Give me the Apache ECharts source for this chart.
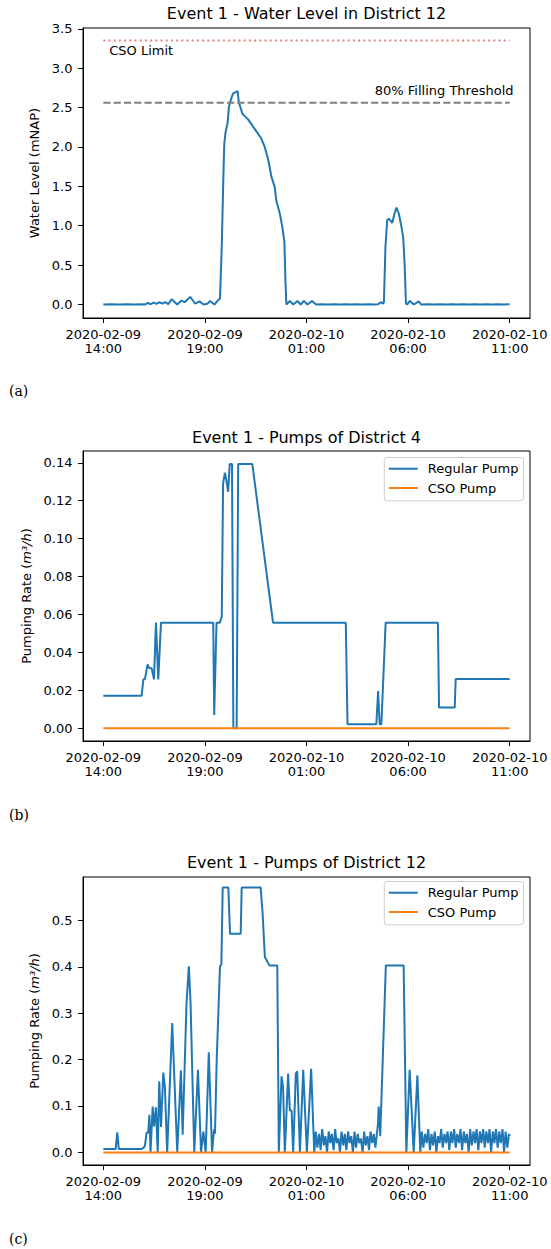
<!DOCTYPE html>
<html>
<head>
<meta charset="utf-8">
<script src="https://cdn.jsdelivr.net/npm/echarts@6/dist/echarts.min.js"></script>
<style>
html,body{margin:0;padding:0;background:#fff;}
#c{width:551px;height:1249px;}
</style>
</head>
<body>
<div id="c"></div>
<script>
// ---------- DATA (hours after 2020-02-09 14:00) ----------
const xTickValues = [0, 5.25, 10.5, 15.75, 21];
const xTickLabels = ['2020-02-09\n14:00', '2020-02-09\n19:00', '2020-02-10\n01:00', '2020-02-10\n06:00', '2020-02-10\n11:00'];

const yTicksLevel = [0, 0.5, 1.0, 1.5, 2.0, 2.5, 3.0, 3.5];
const yTicksD4 = [0, 0.02, 0.04, 0.06, 0.08, 0.10, 0.12, 0.14];
const yTicksD12 = [0, 0.1, 0.2, 0.3, 0.4, 0.5];

const csoLimit = 3.35;
const fillingThreshold = 2.56;
const lineSpan = [0, 21];

const waterLevel = [
  [0,0],[0.4,0.003],[0.8,0],[1.2,0.003],[1.6,0],[2.0,0.002],[2.15,0],
  [2.3,0.02],[2.45,0.005],[2.6,0.025],[2.75,0.008],[2.9,0.03],[3.05,0.01],[3.2,0.03],[3.36,0.005],
  [3.53,0.067],[3.82,0.0],[4.04,0.05],[4.2,0.03],[4.49,0.097],[4.75,0.01],[4.97,0.04],[5.18,0],
  [5.38,0.01],[5.52,0.045],[5.74,0],[5.91,0.05],[6.03,0.076],
  [6.12,0.73],[6.2,1.58],[6.25,2.04],[6.32,2.19],[6.42,2.30],[6.49,2.51],[6.63,2.63],[6.71,2.68],
  [6.94,2.71],[7.0,2.57],[7.19,2.42],[7.48,2.35],[7.82,2.23],[8.16,2.11],[8.34,2.0],[8.51,1.85],
  [8.69,1.62],[8.86,1.49],[8.94,1.32],[9.12,1.155],[9.25,0.985],[9.36,0.79],[9.41,0.31],[9.46,0],
  [9.64,0.045],[9.82,0],[10.03,0.045],[10.2,0],[10.36,0.046],[10.55,0],[10.78,0.046],[11.0,0],
  [11.3,0.004],[11.6,0],[11.9,0.004],[12.2,0],[12.5,0.004],[12.8,0],[13.1,0.004],[13.4,0],[13.7,0.004],
  [14.0,0],[14.2,0.005],[14.37,0.03],[14.45,0.01],[14.5,0.03],
  [14.58,0.73],[14.67,1.07],[14.75,1.09],[14.93,1.035],[15.05,1.155],[15.15,1.23],[15.27,1.155],
  [15.41,0.985],[15.5,0.84],[15.57,0.52],[15.64,0.01],[15.7,0],
  [15.84,0.046],[16.05,0],[16.3,0.04],[16.42,0],
  [16.8,0.004],[17.1,0],[17.4,0.004],[17.7,0],[18.0,0.004],[18.3,0],[18.6,0.004],[18.9,0],
  [19.2,0.004],[19.5,0],[19.8,0.004],[20.1,0],[20.4,0.004],[20.7,0],[21,0.002]
];

const regularPumpD4 = [
  [0,0.0172],[1.98,0.0172],[2.07,0.0258],[2.15,0.026],[2.29,0.0337],[2.38,0.0316],[2.5,0.0316],
  [2.62,0.0258],[2.72,0.0557],[2.84,0.0258],[2.98,0.0557],[5.68,0.0557],[5.73,0.007],[5.85,0.0556],
  [6.02,0.0557],[6.12,0.0588],[6.19,0.129],[6.28,0.1347],[6.36,0.1308],[6.45,0.1247],[6.53,0.1393],
  [6.65,0.1393],[6.72,0],[6.89,0],[6.97,0.1393],[7.70,0.1393],[8.77,0.0557],[12.53,0.0557],
  [12.62,0.0021],[14.11,0.0021],[14.2,0.0197],[14.28,0.0021],[14.37,0.0021],[14.59,0.0557],
  [17.29,0.0557],[17.35,0.0109],[18.16,0.0109],[18.21,0.026],[21,0.026]
];
const csoPumpD4 = [[0,0],[21,0]];

const regularPumpD12 = [
  [0,0.0073],[0.64,0.0073],[0.72,0.043],[0.8,0.0073],[1.98,0.0073],[2.08,0.01],[2.15,0.0144],
  [2.24,0.043],[2.32,0.042],[2.38,0.081],[2.44,0],[2.55,0.099],[2.62,0.056],[2.72,0.097],[2.81,0],
  [2.89,0.153],[2.98,0.055],[3.1,0.172],[3.18,0.142],[3.3,0],[3.56,0.279],[3.82,0],[4.01,0.177],
  [4.1,0.038],[4.3,0.322],[4.42,0.401],[4.51,0.32],[4.7,0],[4.89,0.178],[5.05,0],[5.17,0.045],
  [5.29,0],[5.45,0.2155],[5.62,0],[5.72,0.049],[5.77,0.04],[5.86,0.2],[6.03,0.401],[6.1,0.405],
  [6.17,0.571],[6.46,0.571],[6.55,0.471],[7.1,0.471],[7.15,0.571],[8.13,0.571],[8.23,0.516],
  [8.35,0.421],[8.58,0.403],[8.99,0.403],[9.07,0],[9.21,0.164],[9.29,0.14],[9.38,0],[9.55,0.17],
  [9.64,0.09],[9.73,0.09],[9.81,0],[9.95,0.17],[10.02,0.175],[10.16,0],[10.33,0.178],[10.52,0],
  [10.74,0.18],[10.9,0],
  [10.98,0.045],[11.06,0.01],[11.15,0.04],[11.23,0.005],[11.31,0.05],[11.4,0.015],[11.48,0.035],
  [11.56,0.0],[11.65,0.045],[11.73,0.02],[11.81,0.04],[11.9,0.005],[11.98,0.05],[12.06,0.02],
  [12.15,0.03],[12.23,0.0],[12.31,0.045],[12.4,0.015],[12.48,0.04],[12.56,0.005],[12.65,0.045],
  [12.73,0.02],[12.81,0.035],[12.9,0.0],[12.98,0.045],[13.06,0.01],[13.15,0.04],[13.23,0.02],
  [13.31,0.03],[13.4,0.0],[13.48,0.045],[13.56,0.015],[13.65,0.035],[13.73,0.005],[13.81,0.045],
  [13.9,0.02],[13.98,0.04],[14.06,0.01],[14.15,0.045],
  [14.19,0.06],[14.23,0.099],[14.31,0.035],[14.6,0.403],[15.52,0.403],[15.66,0],[15.83,0.178],
  [16.04,0],[16.23,0.166],[16.38,0],
  [16.46,0.045],[16.54,0.01],[16.63,0.04],[16.71,0.02],[16.79,0.05],[16.88,0.005],[16.96,0.04],
  [17.04,0.015],[17.13,0.045],[17.21,0.0],[17.29,0.035],[17.38,0.02],[17.46,0.05],[17.54,0.01],
  [17.63,0.04],[17.71,0.02],[17.79,0.045],[17.88,0.005],[17.96,0.045],[18.04,0.02],[18.13,0.05],
  [18.21,0.01],[18.29,0.04],[18.38,0.02],[18.46,0.05],[18.54,0.005],[18.63,0.045],[18.71,0.02],
  [18.79,0.04],[18.88,0.0],[18.96,0.05],[19.04,0.015],[19.13,0.045],[19.21,0.02],[19.29,0.05],
  [19.38,0.005],[19.46,0.045],[19.54,0.02],[19.63,0.05],[19.71,0.01],[19.79,0.045],[19.88,0.02],
  [19.96,0.05],[20.04,0.0],[20.13,0.045],[20.21,0.02],[20.29,0.05],[20.38,0.01],[20.46,0.045],
  [20.54,0.02],[20.63,0.05],[20.71,0.0],[20.79,0.045],[20.88,0.01],[20.96,0.04],[21,0.035]
];
const csoPumpD12 = [[0,0],[21,0]];

// ---------- STYLE ----------
const FONT = 'DejaVu Sans';
const BLUE = '#1f77b4', ORANGE = '#ff7f0e';

function near(arr, v){ return arr.findIndex(a => Math.abs(a - v) < 1e-6); }

function xAxisFor(gi){
  return {
    type:'value', gridIndex:gi, min:-1.05, max:22.05,
    splitLine:{show:false},
    axisLine:{show:true, onZero:false, lineStyle:{color:'#000', width:1}},
    axisTick:{show:true, length:5, customValues:xTickValues, lineStyle:{color:'#000', width:1}},
    axisLabel:{show:true, customValues:xTickValues, margin:9.5, color:'#000', fontFamily:FONT, fontSize:13, lineHeight:13.8,
      formatter:(v)=>{ const i = near(xTickValues, v); return i >= 0 ? xTickLabels[i] : ''; }}
  };
}
function yAxisFor(gi, min, max, ticks, dec, name, gap){
  return {
    type:'value', gridIndex:gi, min:min, max:max,
    splitLine:{show:false},
    axisLine:{show:true, onZero:false, lineStyle:{color:'#000', width:1}},
    axisTick:{show:true, length:5, customValues:ticks, lineStyle:{color:'#000', width:1}},
    axisLabel:{show:true, customValues:ticks, margin:10.5, color:'#000', fontFamily:FONT, fontSize:13,
      formatter:(v)=>v.toFixed(dec)},
    name:name, nameLocation:'middle', nameGap:gap,
    nameTextStyle:{color:'#000', fontFamily:FONT, fontSize:13,
      rich:{n:{fontFamily:FONT, fontSize:13, color:'#000'}, i:{fontFamily:FONT, fontSize:13, fontStyle:'italic', color:'#000'}}}
  };
}
function lineSeries(name, data, xi, color, extra){
  return Object.assign({
    name:name, type:'line', xAxisIndex:xi, yAxisIndex:xi, data:data,
    showSymbol:false, symbol:'none', animation:false,
    lineStyle:{color:color, width:2}, itemStyle:{color:color},
    emphasis:{disabled:true}
  }, extra || {});
}
function legendFor(top){
  return {
    top:top, right:27.5, orient:'vertical', icon:'rect', itemWidth:29, itemHeight:2, itemGap:4.3,
    padding:[3.7,5,5.3,4.5], backgroundColor:'#fff', borderColor:'#cccccc', borderWidth:1, borderRadius:3,
    textStyle:{fontFamily:FONT, fontSize:13, color:'#000', lineHeight:15, padding:[0,0,0,5]},
    data:['Regular Pump','CSO Pump'], selectedMode:false
  };
}
function txt(x, y, s, font, align){
  return {type:'text', x:x, y:y, silent:true,
    style:{text:s, font:font, fill:'#000', textAlign:align||'center', textVerticalAlign:'middle', align:align||'center', verticalAlign:'middle'}};
}

const chart = echarts.init(document.getElementById('c'), null, {renderer:'svg'});
const lvlSpan = lineSpan.map(h => [h, csoLimit]);
const thrSpan = lineSpan.map(h => [h, fillingThreshold]);

chart.setOption({
  animation:false,
  backgroundColor:'#fff',
  grid:[
    {left:83, top:28, width:447, height:290, show:true, borderColor:'#000', borderWidth:1, backgroundColor:'transparent'},
    {left:83, top:451, width:447, height:290, show:true, borderColor:'#000', borderWidth:1, backgroundColor:'transparent'},
    {left:83, top:877, width:447, height:288, show:true, borderColor:'#000', borderWidth:1, backgroundColor:'transparent'}
  ],
  xAxis:[xAxisFor(0), xAxisFor(1), xAxisFor(2)],
  yAxis:[
    yAxisFor(0, -0.171, 3.51, yTicksLevel, 1, 'Water Level (mNAP)', 36),
    yAxisFor(1, -0.0067, 0.1462, yTicksD4, 2, '{n|Pumping Rate (}{i|m³/h}{n|)}', 46),
    yAxisFor(2, -0.0272, 0.5935, yTicksD12, 1, '{n|Pumping Rate (}{i|m³/h}{n|)}', 35.5)
  ],
  legend:[legendFor(457.5), legendFor(881.5)],
  series:[
    lineSeries('Water Level', waterLevel, 0, BLUE),
    lineSeries('CSO Limit', lvlSpan, 0, '#e58080', {lineStyle:{color:'#e58080', width:2, type:[2,3.2]}}),
    lineSeries('80% Filling Threshold', thrSpan, 0, '#808080', {lineStyle:{color:'#808080', width:2, type:[7.2,3.1]}}),
    lineSeries('Regular Pump', regularPumpD4, 1, BLUE),
    lineSeries('CSO Pump', csoPumpD4, 1, ORANGE),
    lineSeries('Regular Pump', regularPumpD12, 2, BLUE),
    lineSeries('CSO Pump', csoPumpD12, 2, ORANGE)
  ],
  graphic:[
    txt(306.5, 13.5, 'Event 1 - Water Level in District 12', '16px "DejaVu Sans"'),
    txt(306.5, 437.5, 'Event 1 - Pumps of District 4', '16px "DejaVu Sans"'),
    txt(306.5, 862, 'Event 1 - Pumps of District 12', '16px "DejaVu Sans"'),
    txt(109.2, 50.7, 'CSO Limit', '13px "DejaVu Sans"', 'left'),
    txt(513.5, 90.7, '80% Filling Threshold', '13px "DejaVu Sans"', 'right'),
    txt(9, 391, '(a)', '14px "DejaVu Serif"', 'left'),
    txt(9, 815, '(b)', '14px "DejaVu Serif"', 'left'),
    txt(9, 1239, '(c)', '14px "DejaVu Serif"', 'left')
  ]
});
</script>
</body>
</html>
